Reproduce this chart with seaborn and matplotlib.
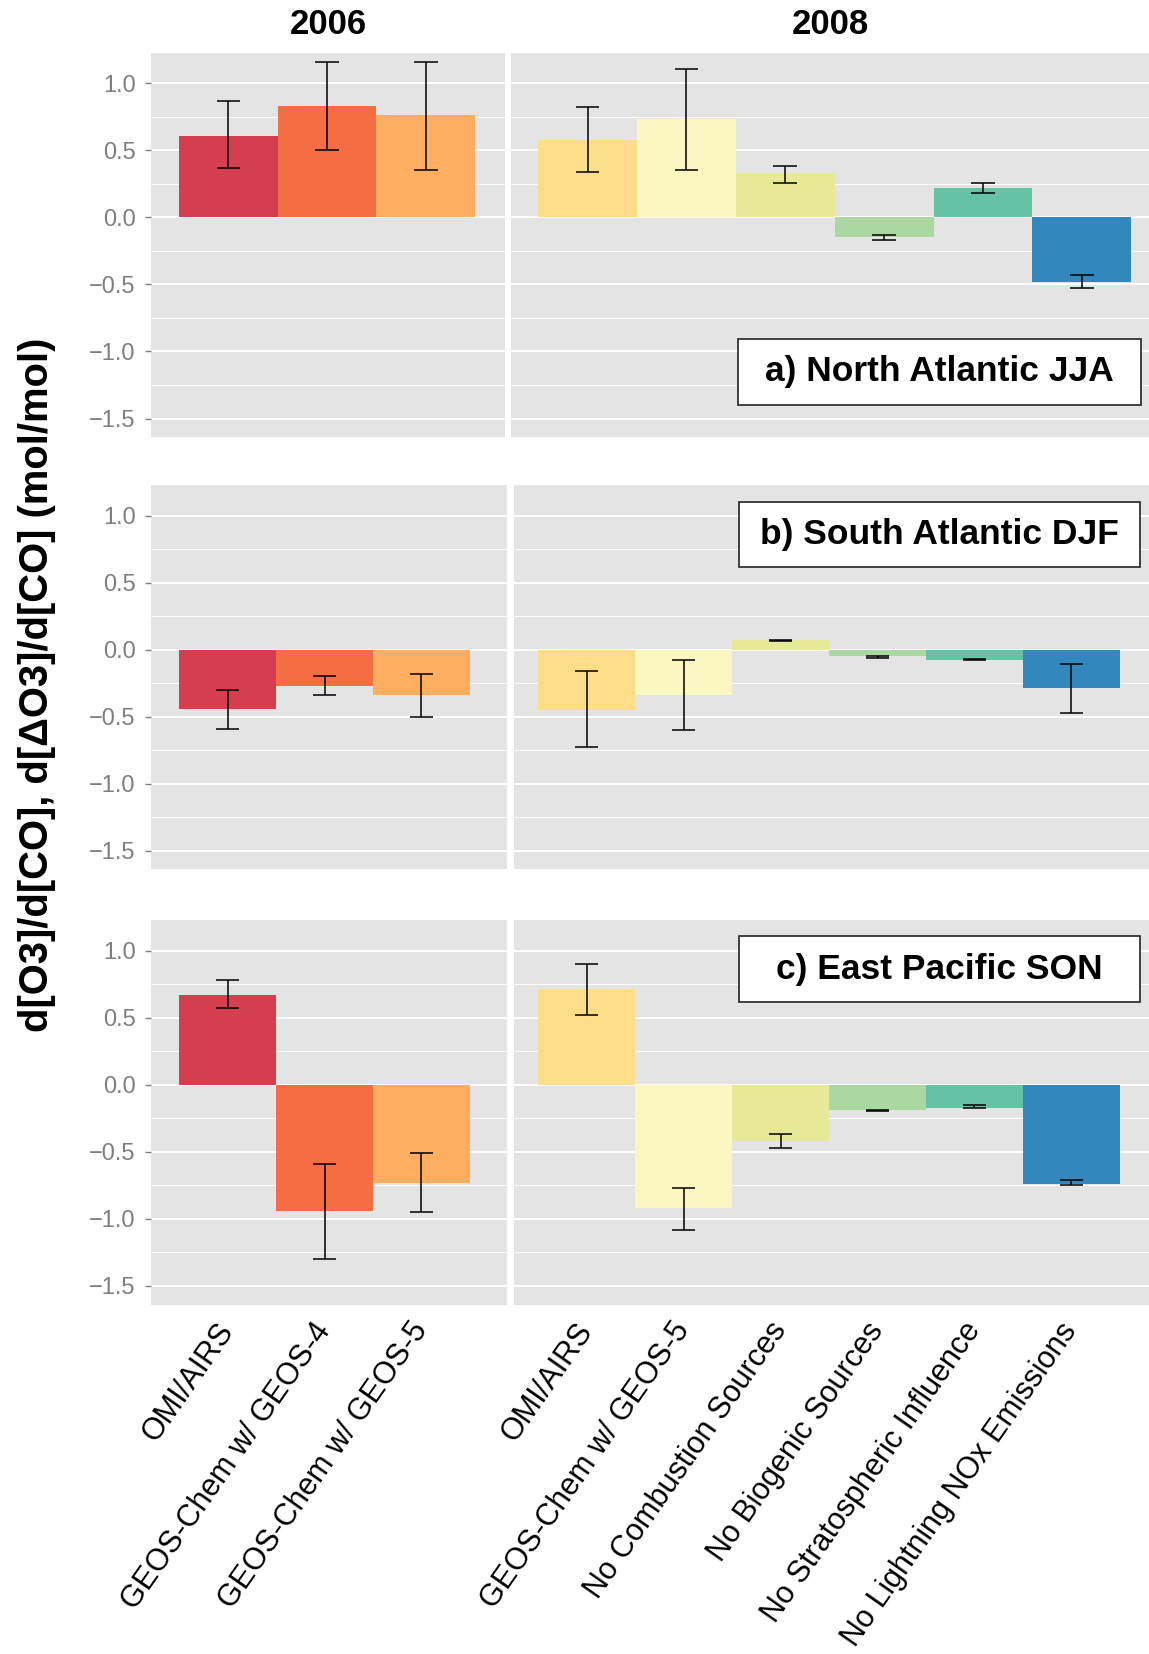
import numpy as np
import pandas as pd
import matplotlib
matplotlib.use("Agg")
import matplotlib.pyplot as plt
import seaborn as sns
from matplotlib.patches import Rectangle
from matplotlib.ticker import MultipleLocator, FuncFormatter

# ---------------------------------------------------------------- data
sources_2006 = ["OMI/AIRS", "GEOS-Chem w/ GEOS-4", "GEOS-Chem w/ GEOS-5"]
sources_2008 = ["OMI/AIRS", "GEOS-Chem w/ GEOS-5", "No Combustion Sources",
                "No Biogenic Sources", "No Stratospheric Influence",
                "No Lightning NOx Emissions"]
years = ["2006", "2008"]
regions = ["a) North Atlantic JJA", "b) South Atlantic DJF", "c) East Pacific SON"]

colors_2006 = ["#D53E4F", "#F46D43", "#FDAE61"]
colors_2008 = ["#FCDD8A", "#FAF7C0", "#E6EA98", "#ABD8A2", "#66C2A5", "#3288BD"]

# North Atlantic JJA
na_2006_ratio = [0.61, 0.83, 0.76]
na_2006_low = [0.37, 0.50, 0.35]
na_2006_high = [0.87, 1.16, 1.16]
na_2008_ratio = [0.58, 0.73, 0.33, -0.15, 0.22, -0.48]
na_2008_low = [0.34, 0.35, 0.26, -0.165, 0.18, -0.53]
na_2008_high = [0.82, 1.11, 0.38, -0.13, 0.26, -0.43]

# South Atlantic DJF
sa_2006_ratio = [-0.44, -0.27, -0.34]
sa_2006_low = [-0.59, -0.34, -0.50]
sa_2006_high = [-0.30, -0.20, -0.18]
sa_2008_ratio = [-0.45, -0.34, 0.07, -0.05, -0.08, -0.29]
sa_2008_low = [-0.73, -0.60, 0.066, -0.062, -0.08, -0.47]
sa_2008_high = [-0.16, -0.08, 0.069, -0.045, -0.07, -0.11]

# East Pacific SON
ep_2006_ratio = [0.67, -0.94, -0.73]
ep_2006_low = [0.57, -1.30, -0.95]
ep_2006_high = [0.78, -0.59, -0.51]
ep_2008_ratio = [0.71, -0.92, -0.42, -0.19, -0.17, -0.74]
ep_2008_low = [0.52, -1.08, -0.47, -0.193, -0.177, -0.75]
ep_2008_high = [0.90, -0.77, -0.37, -0.189, -0.152, -0.714]

records = []
for region, blocks in zip(regions, [
        [(na_2006_ratio, na_2006_low, na_2006_high), (na_2008_ratio, na_2008_low, na_2008_high)],
        [(sa_2006_ratio, sa_2006_low, sa_2006_high), (sa_2008_ratio, sa_2008_low, sa_2008_high)],
        [(ep_2006_ratio, ep_2006_low, ep_2006_high), (ep_2008_ratio, ep_2008_low, ep_2008_high)]]):
    for year, srcs, (r, lo, hi) in zip(years, [sources_2006, sources_2008], blocks):
        for s, v, l, h in zip(srcs, r, lo, hi):
            records.append(dict(region=region, year=year, source=s, ratio=v, low=l, high=h))
df = pd.DataFrame(records)

# ---------------------------------------------------------------- style
sns.set_style("white")
plt.rcParams["font.family"] = ["Liberation Sans", "DejaVu Sans"]
plt.rcParams["text.color"] = "black"
plt.rcParams["axes.unicode_minus"] = True

W, H = 1149, 1654
fig = plt.figure(figsize=(W / 100, H / 100), dpi=100)

# panel frames in pixels: (left, top, right, bottom)
row_tops = [52.7, 485.0, 920.0]
row_bottoms = [437.3, 869.3, 1304.7]
col_edges = [[(151.2, 505.2), (511.2, 1149)],
             [(151.2, 507.0), (513.7, 1149)],
             [(151.2, 507.0), (513.7, 1149)]]
xlims = [[(-0.783, 2.806), (-0.772, 5.68)],
         [(-0.788, 2.882), (-0.752, 5.80)],
         [(-0.788, 2.882), (-0.752, 5.80)]]
label_boxes = [(0.356, 0.085, 0.632, 0.170),
               (0.355, 0.786, 0.631, 0.171),
               (0.355, 0.786, 0.631, 0.172)]
YLIM = (-1.64, 1.228)
panel_bg = "#E4E4E4"
tick_gray = "#7F7F7F"
minus_fmt = FuncFormatter(lambda v, _: f"{v:.1f}".replace("-", "\u2212"))


def add_axes_px(left, top, right, bottom):
    return fig.add_axes([left / W, 1 - bottom / H, (right - left) / W, (bottom - top) / H])


for r, region in enumerate(regions):
    for c, (year, srcs, cols) in enumerate(zip(years, [sources_2006, sources_2008],
                                                [colors_2006, colors_2008])):
        left, right = col_edges[r][c]
        ax = add_axes_px(left, row_tops[r], right, row_bottoms[r])
        ax.set_facecolor(panel_bg)
        sub = df[(df.region == region) & (df.year == year)]
        sns.barplot(data=sub, x="source", y="ratio", hue="source", order=srcs,
                    hue_order=srcs, palette=cols, width=1.0, saturation=1,
                    errorbar=None, legend=False, ax=ax, zorder=2, linewidth=0)
        xs = np.arange(len(srcs))
        ax.vlines(xs, sub["low"], sub["high"], color="black", lw=1.1, zorder=4)
        cap = 0.12
        ax.hlines(sub["low"], xs - cap, xs + cap, color="black", lw=1.1, zorder=4)
        ax.hlines(sub["high"], xs - cap, xs + cap, color="black", lw=1.1, zorder=4)

        ax.set_xlim(*xlims[r][c])
        ax.set_ylim(*YLIM)
        ax.yaxis.set_major_locator(MultipleLocator(0.5))
        ax.yaxis.set_minor_locator(MultipleLocator(0.25))
        ax.yaxis.set_major_formatter(minus_fmt)
        ax.grid(which="major", axis="y", color="white", lw=1.3, zorder=0)
        ax.grid(which="minor", axis="y", color="white", lw=0.6, zorder=0)
        ax.grid(which="major", axis="x", visible=False)
        ax.set_axisbelow(True)
        for sp in ax.spines.values():
            sp.set_visible(False)
        ax.set_xlabel("")
        ax.set_ylabel("")
        ax.tick_params(which="minor", length=0)

        if c == 0:
            ax.tick_params(axis="y", which="major", left=True, length=4.3, width=1.0,
                           color=tick_gray, labelcolor=tick_gray, labelsize=17, pad=7)
        else:
            ax.tick_params(axis="y", which="major", length=0, labelleft=False)

        if r == len(regions) - 1:
            ax.set_xticks(xs)
            ax.set_xticklabels(srcs, rotation=55, ha="right", va="center",
                               rotation_mode="anchor", fontsize=22, color="black")
            ax.tick_params(axis="x", length=0, pad=15)
        else:
            ax.tick_params(axis="x", length=0, labelbottom=False)

        if r == 0:
            fig.text(((left + right) / 2) / W, 1 - 25 / H, year, ha="center",
                     va="center", fontsize=25, fontweight="bold", color="black")

        if c == 1:
            bx, by, bw, bh = label_boxes[r]
            ax.add_patch(Rectangle((bx, by), bw, bh, transform=ax.transAxes,
                                   facecolor="white", edgecolor="#333333",
                                   lw=1.3, zorder=6))
            ax.text(bx + bw / 2, by + bh / 2, region, transform=ax.transAxes,
                    ha="center", va="center", fontsize=25.5, fontweight="bold",
                    color="black", zorder=7)

fig.text(37 / W, 1 - 685 / H, "d[O3]/d[CO], d[ΔO3]/d[CO] (mol/mol)",
         rotation=90, ha="center", va="center", fontsize=28.8, fontweight="bold",
         color="black")

fig.savefig("out.png", dpi=100)
